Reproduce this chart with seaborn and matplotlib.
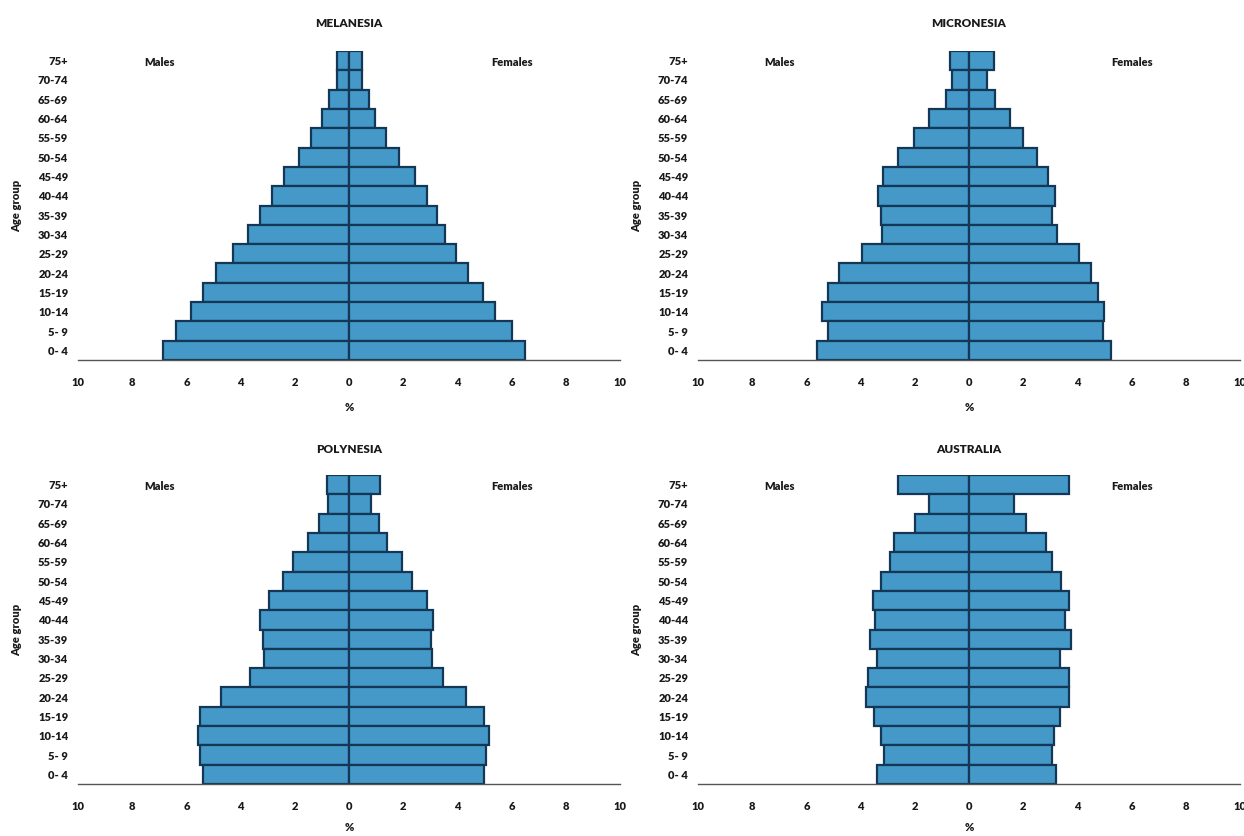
import numpy as np
import pandas as pd
import matplotlib
matplotlib.use("Agg")
import matplotlib.pyplot as plt
import seaborn as sns

# --- Data (percent of total population) ---
AGE_GROUPS = ["0- 4", "5- 9", "10-14", "15-19", "20-24", "25-29", "30-34", "35-39",
              "40-44", "45-49", "50-54", "55-59", "60-64", "65-69", "70-74", "75+"]

MELANESIA_MALES = [6.87, 6.40, 5.83, 5.38, 4.92, 4.29, 3.72, 3.27,
                   2.85, 2.39, 1.84, 1.39, 1.01, 0.74, 0.44, 0.44]
MELANESIA_FEMALES = [6.48, 6.00, 5.39, 4.94, 4.38, 3.96, 3.54, 3.24,
                     2.88, 2.42, 1.85, 1.37, 0.95, 0.72, 0.47, 0.47]

MICRONESIA_MALES = [5.61, 5.21, 5.43, 5.21, 4.80, 3.96, 3.22, 3.25,
                    3.37, 3.19, 2.61, 2.04, 1.48, 0.86, 0.62, 0.69]
MICRONESIA_FEMALES = [5.24, 4.94, 4.99, 4.77, 4.50, 4.06, 3.25, 3.07,
                      3.17, 2.91, 2.51, 1.99, 1.52, 0.96, 0.65, 0.92]

POLYNESIA_MALES = [5.38, 5.48, 5.59, 5.50, 4.73, 3.64, 3.15, 3.19,
                   3.30, 2.97, 2.44, 2.06, 1.50, 1.11, 0.77, 0.81]
POLYNESIA_FEMALES = [4.98, 5.06, 5.17, 4.98, 4.31, 3.48, 3.06, 3.03,
                     3.10, 2.86, 2.33, 1.97, 1.40, 1.10, 0.83, 1.13]

AUSTRALIA_MALES = [3.39, 3.14, 3.25, 3.50, 3.81, 3.72, 3.39, 3.65,
                   3.47, 3.54, 3.25, 2.91, 2.76, 1.99, 1.48, 2.61]
AUSTRALIA_FEMALES = [3.22, 3.06, 3.13, 3.37, 3.69, 3.69, 3.37, 3.76,
                     3.54, 3.69, 3.39, 3.06, 2.83, 2.10, 1.65, 3.69]

REGIONS = ["MELANESIA", "MICRONESIA", "POLYNESIA", "AUSTRALIA"]
MALES = [MELANESIA_MALES, MICRONESIA_MALES, POLYNESIA_MALES, AUSTRALIA_MALES]
FEMALES = [MELANESIA_FEMALES, MICRONESIA_FEMALES, POLYNESIA_FEMALES, AUSTRALIA_FEMALES]

# --- Style ---
sns.set_style("white")
plt.rcParams['font.family'] = ['Lato', 'DejaVu Sans']
plt.rcParams['font.weight'] = 'heavy'

BAR_COLOR = '#4499c9'
EDGE_COLOR = '#143756'
TEXT_COLOR = '#1a1a1a'
FS = 8
WEIGHT = 'heavy'

fig = plt.figure(figsize=(12.44, 8.36), dpi=100)

# axes boxes in figure fraction: left, bottom, width, height
W = 542 / 1244
boxes = [
    (78 / 1244, 1 - 360 / 836, W, 309 / 836),
    (698 / 1244, 1 - 360 / 836, W, 309 / 836),
    (78 / 1244, 1 - 784 / 836, W, 309 / 836),
    (698 / 1244, 1 - 784 / 836, W, 309 / 836),
]
title_pads = [17, 17, 16, 16]
xlabel_pads = [10, 10, 7, 7]

order = AGE_GROUPS[::-1]  # 75+ on top

for i, region in enumerate(REGIONS):
    ax = fig.add_axes(boxes[i])
    df = pd.DataFrame({
        'age': AGE_GROUPS,
        'males': -np.array(MALES[i]),
        'females': np.array(FEMALES[i]),
    })
    for col in ['males', 'females']:
        sns.barplot(data=df, x=col, y='age', order=order, orient='h',
                    width=1.0, color=BAR_COLOR, saturation=1,
                    edgecolor=EDGE_COLOR, linewidth=1.6, ax=ax)

    ax.set_xlim(-10, 10)
    ax.set_ylim(len(order) - 0.5, -0.5)
    ticks = np.arange(-10, 11, 2)
    ax.set_xticks(ticks)
    ax.set_xticklabels([str(abs(t)) for t in ticks])

    for s in ['top', 'right', 'left']:
        ax.spines[s].set_visible(False)
    ax.spines['bottom'].set_color('#555555')
    ax.spines['bottom'].set_linewidth(1.0)

    ax.tick_params(axis='x', direction='out', length=2.5, width=0.8,
                   color='#777777', pad=10, labelsize=FS, labelcolor=TEXT_COLOR)
    ax.tick_params(axis='y', length=0, pad=7, labelsize=FS, labelcolor=TEXT_COLOR)
    for lab in ax.get_xticklabels() + ax.get_yticklabels():
        lab.set_fontweight(WEIGHT)

    ax.set_xlabel('%', fontsize=FS, fontweight=WEIGHT, color=TEXT_COLOR,
                  labelpad=xlabel_pads[i])
    ax.set_ylabel('Age group', fontsize=FS, fontweight=WEIGHT, color=TEXT_COLOR)
    ax.yaxis.set_label_coords(-0.103, 0.5)
    ax.set_title(region, fontsize=8.5, fontweight=WEIGHT, color=TEXT_COLOR,
                 pad=title_pads[i])

    ax.text(-7.0, 0.1, 'Males', ha='center', va='center', fontsize=FS,
            fontweight=WEIGHT, color=TEXT_COLOR)
    ax.text(6.0, 0.1, 'Females', ha='center', va='center', fontsize=FS,
            fontweight=WEIGHT, color=TEXT_COLOR)

fig.savefig('out.png', dpi=100)
